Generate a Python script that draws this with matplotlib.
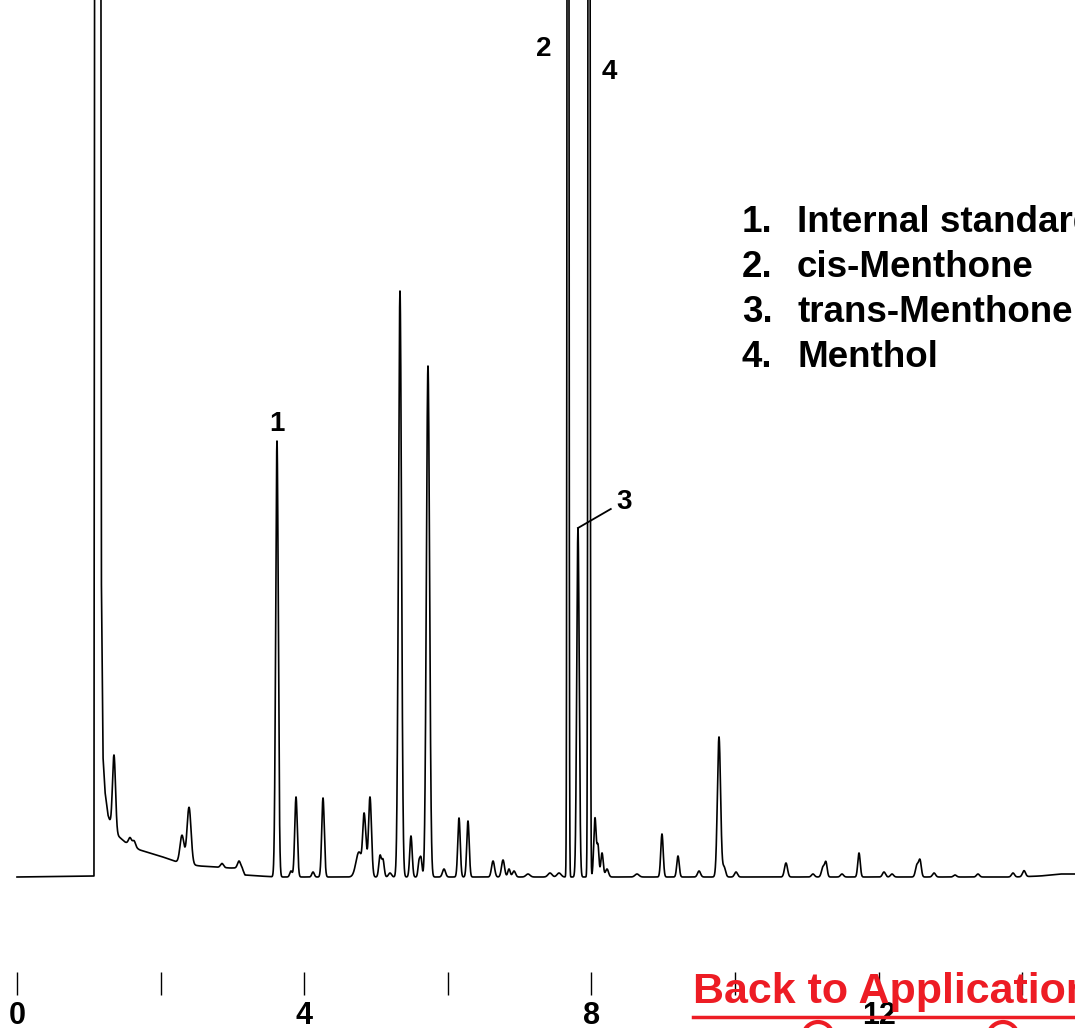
import numpy as np
import matplotlib
matplotlib.use('Agg')
import matplotlib.pyplot as plt
from matplotlib.patches import Ellipse

plt.rcParams['font.family'] = ['Liberation Sans', 'DejaVu Sans']

# retention times (min), peak heights (above baseline) and widths (sigma, min)
peak_rt = [1.351, 1.574, 1.630, 2.298, 2.396, 2.855, 3.092, 3.621, 3.816, 3.886,
           4.123, 4.262, 4.763, 4.833, 4.861, 4.916, 5.056, 5.097, 5.195, 5.334,
           5.487, 5.599, 5.627, 5.724, 5.947, 6.156, 6.281, 6.630, 6.769, 6.852,
           6.922, 7.117, 7.423, 7.549, 7.674, 7.813, 7.967, 8.050, 8.092, 8.148,
           8.217, 8.635, 8.983, 9.206, 9.499, 9.777, 9.847, 10.014, 10.710, 11.086,
           11.226, 11.267, 11.490, 11.727, 12.075, 12.187, 12.535, 12.577, 12.772, 13.064,
           13.384, 13.872, 14.025]
peak_h = [75, 7, 6, 28, 57, 4, 7, 436, 6, 80,
          5, 79, 25, 55, 20, 80, 21, 17, 4, 586,
          41, 15, 18, 511, 8, 59, 56, 16, 17, 8,
          6, 3, 4, 4, 3000, 349, 3000, 59, 30, 24,
          8, 3, 43, 21, 6, 140, 10, 5, 14, 3,
          10, 14, 3, 24, 5, 3, 12, 16, 4, 2,
          3, 4, 6]
peak_w = [0.021, 0.021, 0.021, 0.028, 0.028, 0.021, 0.021, 0.018, 0.017, 0.018,
          0.017, 0.018, 0.042, 0.018, 0.014, 0.021, 0.017, 0.017, 0.021, 0.021,
          0.017, 0.014, 0.014, 0.022, 0.021, 0.017, 0.017, 0.021, 0.021, 0.017,
          0.021, 0.028, 0.028, 0.028, 0.009, 0.017, 0.010, 0.017, 0.014, 0.017,
          0.021, 0.028, 0.017, 0.017, 0.021, 0.022, 0.021, 0.021, 0.021, 0.021,
          0.021, 0.017, 0.021, 0.017, 0.021, 0.021, 0.021, 0.018, 0.021, 0.021,
          0.021, 0.021, 0.021]

# solvent front + drifting baseline (min, signal)
base_t = [0.0, 1.072, 1.100, 1.150, 1.175, 1.198, 1.226, 1.267, 1.309, 1.393,
          1.504, 1.713, 1.992, 2.270, 2.549, 2.967, 3.134, 3.175, 3.384, 3.6,
          13.9, 14.25, 14.53, 14.74]
base_s = [0, 1, 3000, 3000, 300, 120, 85, 62, 52, 42,
          35, 27, 21, 14, 11, 9, 9, 2, 1, 0,
          0, 1, 3, 3]

tick_pos = [0, 2, 4, 6, 8, 10, 12, 14]
tick_lab = ['0', '', '4', '', '8', '', '12', '']
legend_num = ['1.', '2.', '3.', '4.']
legend_name = ['Internal standard', 'cis-Menthone', 'trans-Menthone', 'Menthol']

t = np.arange(0.0, 14.74, 0.001)
sig = np.interp(t, base_t, base_s)
for rt, h, w in zip(peak_rt, peak_h, peak_w):
    sig = sig + h * np.exp(-0.5 * ((t - rt) / w) ** 2)

fig = plt.figure(figsize=(10.75, 10.28), dpi=100)
ax = fig.add_axes([0, 0, 1, 1])
ax.set_xlim(-17 / 71.8, 1058 / 71.8)
ax.set_ylim(-151, 877)
ax.axis('off')

ax.plot(t, sig, color='black', lw=1.2, zorder=3)

# peak labels
ax.text(peak_rt[7], 453, '1', fontsize=20, fontweight='bold', ha='center', va='center')
ax.text(7.34, 828, '2', fontsize=20, fontweight='bold', ha='center', va='center')
ax.text(8.245, 805, '4', fontsize=20, fontweight='bold', ha='center', va='center')
ax.text(8.455, 375, '3', fontsize=20, fontweight='bold', ha='center', va='center')
ax.plot([peak_rt[35], 8.27], [peak_h[35], 368], color='black', lw=1.3)

# legend block
for i, (n, name) in enumerate(zip(legend_num, legend_name)):
    y = 1 - (222 + 45.3 * i) / 1028
    fig.text(742 / 1075, y, n, fontsize=26.5, fontweight='bold', va='center', ha='left')
    fig.text(797 / 1075, y, name, fontsize=26.5, fontweight='bold', va='center', ha='left')

# link text at the bottom
fig.text(693 / 1075, 1 - 992 / 1028, 'Back to Application', color='#ED1C24',
         fontsize=31, fontweight='bold', va='center', ha='left', zorder=2)
fig.add_artist(plt.Line2D([693 / 1075, 1.0], [1 - 1017 / 1028] * 2, color='#ED1C24', lw=2.5))
for cx in [818, 1003]:
    fig.add_artist(Ellipse((cx / 1075, 1 - 1037 / 1028), 30 / 1075, 30 / 1028,
                           facecolor='none', edgecolor='#ED1C24', lw=3))

# time axis ticks
ax.vlines(tick_pos, -118, -95, color='black', lw=1.0, zorder=4)
for p, lab in zip(tick_pos, tick_lab):
    if lab:
        ax.text(p, -139, lab, fontsize=22, fontweight='bold', ha='center', va='center',
                zorder=4)

fig.savefig('out.png', dpi=100)
